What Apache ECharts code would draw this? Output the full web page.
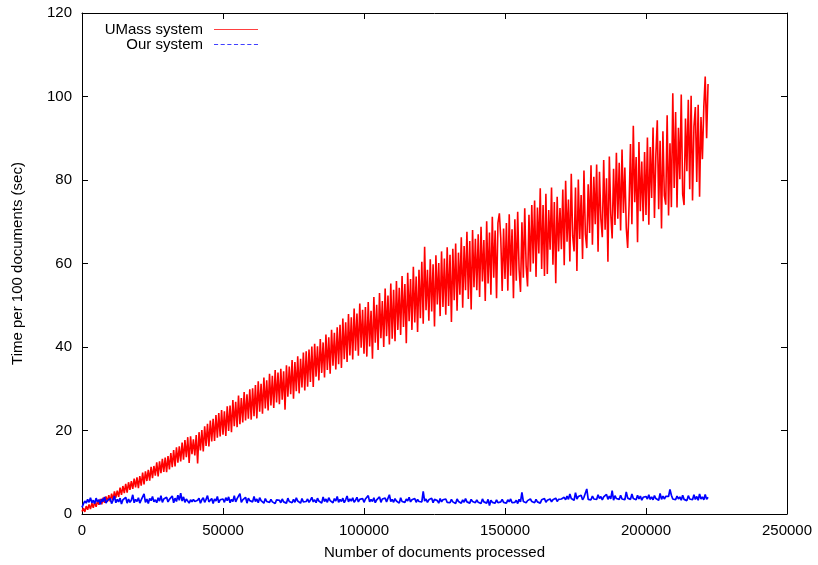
<!DOCTYPE html>
<html><head><meta charset="utf-8">
<script src="https://cdn.jsdelivr.net/npm/echarts@6/dist/echarts.min.js"></script>
<style>html,body{margin:0;padding:0;background:#fff}#c{width:818px;height:565px}</style>
</head><body><div id="c"></div><script>
// x spacing of the samples (documents processed)
const xStep = 500;
const seriesNames = ['UMass system', 'Our system'];
const xTicks = [0, 50000, 100000, 150000, 200000, 250000];
const yTicks = [0, 20, 40, 60, 80, 100, 120];
const xTitle = 'Number of documents processed';
const yTitle = 'Time per 100 documents (sec)';

// UMass system, one value per 500 documents (0 .. 222000)
const umass = [
0.6,1.4,0.5,1.9,1.0,2.3,1.2,2.6,1.5,2.9,1.7,3.1,2.2,3.6,2.3,3.9,2.7,4.2,2.9,4.5,
3.0,4.9,3.3,5.4,3.9,5.6,4.1,6.3,4.6,6.7,5.0,7.2,5.1,7.6,5.8,7.9,6.0,8.5,6.4,8.8,
6.2,9.1,6.8,9.9,7.1,10.2,7.9,10.6,8.0,11.3,8.6,11.5,9.2,12.4,9.0,12.6,9.8,13.2,10.1,13.5,
10.0,13.9,10.7,14.6,11.2,15.3,11.4,16.0,12.3,16.2,12.6,17.1,13.0,17.7,13.6,18.4,12.2,18.6,14.3,17.9,
14.0,18.9,12.1,19.6,15.2,20.1,15.0,21.0,16.3,21.6,16.2,22.4,17.4,22.8,17.5,23.7,18.3,24.2,18.6,24.9,
19.0,24.6,18.7,25.8,19.9,26.0,19.6,27.3,21.0,26.9,20.8,28.4,21.5,27.8,21.9,29.2,22.4,28.7,22.8,29.9,
22.6,30.1,23.4,30.9,22.9,31.8,24.5,31.2,24.0,32.7,25.3,32.0,24.8,33.6,26.0,33.1,25.4,34.5,26.7,33.9,
26.3,34.8,27.4,34.2,25.0,35.6,28.1,35.3,28.7,36.9,27.6,36.4,29.4,37.8,28.9,37.2,30.3,38.7,29.6,39.0,
30.5,39.4,31.6,40.1,30.4,40.8,32.9,40.2,32.0,41.9,33.8,41.1,32.7,43.0,34.5,42.3,33.6,44.1,35.5,43.4,
34.6,44.7,35.9,45.3,35.0,46.8,37.1,45.9,36.4,47.9,38.0,47.1,37.0,49.2,39.1,48.0,37.9,50.4,39.8,48.9,
38.4,49.6,37.7,50.8,40.1,48.7,37.2,52.0,41.0,50.1,39.3,52.9,42.1,51.0,40.0,54.0,42.6,52.3,40.6,55.2,
42.0,53.7,41.4,55.8,44.1,54.2,42.9,57.0,44.8,55.1,40.9,57.8,46.2,56.3,44.1,59.2,45.9,56.9,43.6,58.5,
46.9,60.4,45.6,64.0,48.8,58.5,46.3,61.0,48.5,59.8,44.9,62.0,50.2,60.1,47.4,62.9,49.6,61.2,47.7,63.9,
49.8,62.1,46.0,63.5,51.2,64.8,48.7,62.6,52.5,66.3,49.4,64.2,53.6,67.6,51.5,65.4,49.0,68.0,54.3,65.9,
53.6,67.0,52.0,68.8,55.7,65.6,51.0,70.1,55.2,67.4,52.5,71.2,56.6,67.9,51.7,69.7,72.0,66.1,53.4,68.4,
56.3,69.7,53.5,71.8,57.1,68.2,51.7,70.6,55.9,72.4,58.5,53.2,69.9,56.6,73.2,59.3,54.5,71.7,58.0,74.0,
60.0,75.1,56.8,73.4,62.4,78.0,58.7,74.0,57.0,76.7,57.5,72.8,63.3,78.2,59.7,74.7,55.3,76.0,62.9,73.3,
63.4,77.7,59.6,79.8,65.2,75.3,60.5,81.5,66.6,62.9,78.2,58.2,80.1,65.9,76.4,61.1,82.3,67.0,63.7,79.0,
67.3,83.5,64.5,80.8,69.4,83.7,62.8,82.0,70.7,66.3,84.8,68.1,80.4,60.4,85.6,71.9,66.0,82.7,69.2,86.5,
70.7,84.1,67.9,87.3,72.1,83.0,68.6,63.7,74.0,88.6,69.4,93.0,74.7,85.5,65.1,89.1,72.5,84.4,70.1,86.7,
71.6,90.2,69.3,87.9,75.7,92.6,70.9,86.0,94.3,73.0,89.4,68.4,91.7,76.3,74.1,95.5,71.5,88.8,73.5,100.8,
78.1,96.3,73.4,92.5,80.2,100.5,76.6,74.0,94.7,82.1,99.2,77.8,100.2,75.1,92.8,97.5,79.5,98.0,76.0,95.1,
85.0,97.5,104.8,90.0,103.0
];

// Our system, one value per 500 documents (0 .. 222000)
const ours = [
1.6,2.4,3.1,2.6,3.5,2.8,3.9,2.7,3.3,2.5,3.8,2.9,3.4,2.3,3.6,3.0,4.1,2.6,3.2,2.8,
3.7,2.5,3.3,4.3,2.7,3.5,2.9,3.8,2.4,3.4,3.1,4.0,2.6,3.6,2.8,3.3,4.6,2.7,3.5,3.0,
3.9,2.6,3.4,3.1,4.8,2.8,3.6,2.5,3.7,3.2,4.2,2.9,3.4,2.7,3.9,3.1,4.4,2.8,3.6,3.3,
4.0,2.9,3.5,3.2,4.3,2.7,3.8,3.0,4.5,3.3,5.0,3.1,4.1,2.8,3.6,3.2,2.6,3.4,2.9,3.5,
3.0,2.7,3.3,3.8,2.6,3.4,3.9,2.8,3.5,4.4,2.9,3.2,3.7,2.5,3.6,3.1,4.2,2.7,3.4,3.0,
3.6,2.8,3.9,3.2,4.1,2.7,3.5,3.0,4.4,2.9,3.7,3.3,4.9,2.8,3.4,3.1,4.0,2.6,3.8,3.2,
3.5,2.9,4.2,3.0,3.6,2.7,3.9,3.2,3.4,2.6,3.7,3.0,3.3,2.8,3.5,2.9,3.2,2.5,3.4,3.0,
3.3,2.7,3.6,2.9,3.1,2.6,3.8,3.0,3.4,2.7,3.5,2.8,3.9,3.1,3.3,2.6,3.7,2.9,3.2,3.0,
3.6,2.8,3.3,4.0,2.9,3.4,2.7,3.8,3.1,3.5,2.6,4.1,3.0,3.6,2.8,3.9,3.2,3.4,2.7,3.7,
3.1,4.2,2.8,3.5,3.0,3.8,2.7,3.4,4.3,2.9,3.6,3.1,3.9,2.8,3.3,4.0,2.9,3.5,3.1,3.7,
2.8,3.6,3.2,4.4,2.9,3.5,3.0,3.9,2.7,3.4,3.1,4.1,2.8,3.6,3.2,3.8,2.9,3.3,4.6,3.0,
3.5,2.8,3.7,3.1,3.4,2.6,3.9,3.0,3.3,2.8,3.6,3.1,4.0,2.9,3.4,3.2,3.7,2.8,3.5,3.0,
3.3,2.9,5.4,3.1,3.6,2.8,3.4,3.0,3.8,2.7,3.5,3.1,3.2,2.6,3.7,2.9,3.4,3.0,3.6,2.8,
3.2,2.7,3.5,2.9,3.3,2.5,3.6,3.0,3.1,2.6,3.4,2.8,3.7,2.9,3.2,2.6,3.5,3.0,3.3,2.7,
3.4,2.8,3.1,2.5,3.6,2.9,3.2,2.6,3.5,2.0,3.3,2.8,3.0,2.6,3.4,2.7,3.1,2.9,3.5,2.8,
3.2,2.6,3.4,2.9,3.6,2.7,3.1,2.8,3.3,2.5,3.5,2.9,5.2,3.0,3.4,2.7,3.2,2.8,3.6,3.0,
3.3,2.7,3.5,2.9,3.2,2.6,3.4,3.0,3.7,2.8,3.3,3.1,3.6,2.9,3.4,3.2,3.8,3.0,3.5,3.3,
3.6,3.2,4.0,3.4,4.3,3.5,4.8,3.7,4.1,3.3,5.1,3.6,4.2,3.8,4.5,3.4,4.0,3.6,6.0,3.5,
3.9,3.4,4.3,3.6,4.0,3.5,4.6,3.7,4.2,3.4,4.1,3.8,4.7,3.5,4.3,3.6,5.6,3.3,4.4,3.7,
4.1,3.5,4.5,3.6,4.0,3.4,5.3,3.8,4.2,3.5,4.8,3.7,4.1,3.4,4.5,3.6,4.3,3.3,4.0,3.8,
4.2,3.6,4.6,3.5,4.1,3.4,4.4,3.7,4.0,3.3,4.9,3.5,4.3,3.6,4.2,3.8,4.2,5.9,4.5,3.6,
4.0,3.4,4.3,3.6,4.1,3.3,4.5,3.5,3.9,3.2,4.4,3.6,4.0,3.4,4.6,3.5,4.2,3.3,4.8,3.6,
4.1,3.4,4.7,3.5,4.0
];

const toPairs = arr => arr.map((v, i) => [i * xStep, v]);
const FONT = 'Liberation Sans';
const FS = 15;
const lineColors = ['#ff0000', '#0000ff'];

const xBase = {
  type: 'value', min: xTicks[0], max: xTicks[xTicks.length - 1],
  interval: xTicks[1] - xTicks[0],
  splitLine: { show: false },
  axisLine: { onZero: false, lineStyle: { color: '#000', width: 1 } },
  axisTick: { inside: true, length: 6, lineStyle: { color: '#000' } }
};
const yBase = {
  type: 'value', min: yTicks[0], max: yTicks[yTicks.length - 1],
  interval: yTicks[1] - yTicks[0],
  splitLine: { show: false },
  axisLine: { onZero: false, lineStyle: { color: '#000', width: 1 } },
  axisTick: { inside: true, length: 6, lineStyle: { color: '#000' } }
};

const solidIcon = 'path://M0,0H44V1H0Z';
const dashedIcon = 'path://M0,0h4v1h-4z M6.5,0h4v1h-4z M13,0h4v1h-4z M19.5,0h4v1h-4z M26,0h4v1h-4z M32.5,0h4v1h-4z M39,0h4v1h-4z';

const chart = echarts.init(document.getElementById('c'), null, { renderer: 'canvas' });
chart.setOption({
  animation: false,
  backgroundColor: '#fff',
  textStyle: { fontFamily: FONT },
  grid: { left: 82, right: 31, top: 13, bottom: 48, containLabel: false },
  xAxis: [
    Object.assign({}, xBase, {
      position: 'bottom',
      name: xTitle, nameLocation: 'middle', nameGap: 31,
      nameTextStyle: { fontFamily: FONT, fontSize: FS, color: '#000' },
      axisLabel: { fontFamily: FONT, fontSize: FS, color: '#000', margin: 9, formatter: v => String(v) }
    }),
    Object.assign({}, xBase, { position: 'top', axisLabel: { show: false } })
  ],
  yAxis: [
    Object.assign({}, yBase, {
      position: 'left',
      name: yTitle, nameLocation: 'middle', nameGap: 57, nameRotate: 90,
      nameTextStyle: { fontFamily: FONT, fontSize: FS, color: '#000' },
      axisLabel: { fontFamily: FONT, fontSize: FS, color: '#000', margin: 10, formatter: v => String(v) }
    }),
    Object.assign({}, yBase, { position: 'right', axisLabel: { show: false } })
  ],
  legend: [
    {
      data: [{ name: seriesNames[0], icon: solidIcon, itemStyle: { color: lineColors[0], opacity: 0.75 } }],
      orient: 'vertical', align: 'right', right: 560, top: 22,
      itemWidth: 44, itemHeight: 1.5, padding: 0, itemGap: 0,
      textStyle: { fontFamily: FONT, fontSize: FS, color: '#000', padding: [0, 6, 0, 0] }
    },
    {
      data: [{ name: seriesNames[1], icon: dashedIcon, itemStyle: { color: lineColors[1], opacity: 0.75 } }],
      orient: 'vertical', align: 'right', right: 560, top: 37,
      itemWidth: 44, itemHeight: 1.5, padding: 0, itemGap: 0,
      textStyle: { fontFamily: FONT, fontSize: FS, color: '#000', padding: [0, 6, 0, 0] }
    }
  ],
  series: [
    {
      name: seriesNames[0], type: 'line', data: toPairs(umass),
      xAxisIndex: 0, yAxisIndex: 0,
      symbol: 'none', showSymbol: false,
      lineStyle: { color: lineColors[0], width: 1.6 }, itemStyle: { color: lineColors[0] }
    },
    {
      name: seriesNames[1], type: 'line', data: toPairs(ours),
      xAxisIndex: 0, yAxisIndex: 0,
      symbol: 'none', showSymbol: false,
      lineStyle: { color: lineColors[1], width: 1.7 }, itemStyle: { color: lineColors[1] }
    }
  ]
});
</script></body></html>
